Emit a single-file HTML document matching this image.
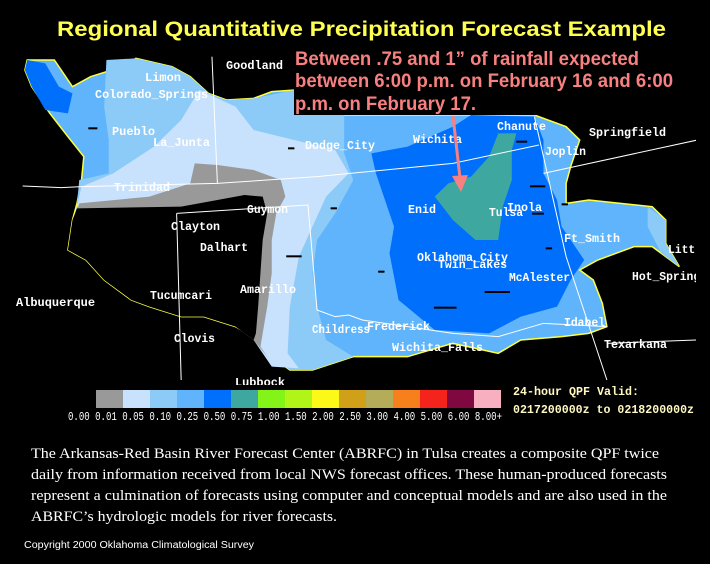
<!DOCTYPE html>
<html><head><meta charset="utf-8"><style>
html,body{margin:0;padding:0;background:#000;width:710px;height:564px;overflow:hidden}
svg{display:block}
.lb{font-family:"Liberation Mono",monospace;font-weight:bold;font-size:12px;fill:#fff}
</style></head><body>
<svg width="710" height="564" viewBox="0 0 710 564" xmlns="http://www.w3.org/2000/svg">
<rect width="710" height="564" fill="#000"/>
<text x="57" y="36" font-family="Liberation Sans, sans-serif" font-weight="bold" font-size="21" fill="#ffff50" textLength="609" lengthAdjust="spacingAndGlyphs">Regional Quantitative Precipitation Forecast Example</text>
<defs><clipPath id="mc"><rect x="0" y="42" width="696" height="343"/></clipPath></defs>
<g clip-path="url(#mc)">
<g transform="translate(0,40) scale(0.4529,0.33333)">
<polygon fill="#60b4fc" stroke="#ffff40" stroke-width="1.5" vector-effect="non-scaling-stroke" points="60,60 120,60 160,140 200,110 270,80 300,55 380,80 420,110 460,160 500,180 560,175 600,155 650,150 650,225 1180,225 1250,260 1280,300 1260,380 1250,430 1250,490 1300,480 1440,500 1470,540 1470,610 1500,680 1440,620 1400,620 1320,660 1280,690 1310,720 1330,790 1340,860 1300,880 1240,890 1150,900 1100,940 1000,910 900,950 780,950 690,990 640,990 600,950 570,900 520,860 450,830 400,830 330,800 290,780 230,720 190,660 150,630 160,540 170,490 180,420 185,350 150,290 110,220 70,140 55,90"/>
<polygon fill="#8ccaf8" points="235,60 300,55 380,80 420,110 460,160 500,180 560,175 650,150 650,225 760,225 760,340 780,420 740,520 700,600 690,700 700,800 720,900 780,950 690,990 640,990 600,950 570,900 170,490 175,420 240,400 240,300 230,200"/>
<polygon fill="#0070fc" points="55,90 60,60 100,70 130,140 160,160 150,220 100,210 70,140"/>
<polygon fill="#c8e1fc" points="440,150 520,200 560,270 740,330 770,400 720,470 690,560 660,650 640,800 635,940 660,985 600,980 560,900 170,500 180,440 250,400 340,320 400,240"/>
<polygon fill="#999" points="430,370 480,375 560,390 620,420 630,470 610,520 600,600 600,700 590,800 580,880 575,920 590,950 560,900 170,510 175,490 330,470 420,430"/>
<polygon fill="#000" points="170,505 400,500 480,480 540,465 580,470 590,520 580,600 575,700 570,800 565,880 560,900 520,860 450,830 400,830 330,800 290,780 230,720 190,660 150,630 160,540"/>
<polygon fill="#0070fc" points="820,340 900,320 1000,260 1040,225 1180,230 1200,300 1200,400 1230,480 1240,560 1270,620 1290,660 1260,720 1230,800 1150,830 1080,880 960,870 880,780 860,640 870,560 850,480 830,400"/>
<polygon fill="#3ea8a0" points="1100,280 1140,280 1130,330 1130,420 1110,500 1100,600 1050,600 1000,540 960,470 990,430 1040,410 1080,350"/>
<polygon fill="#8ccaf8" points="1430,500 1470,540 1470,610 1500,680 1460,640 1430,560"/>
<g fill="none" stroke="#fff" stroke-width="1" vector-effect="non-scaling-stroke">
<polyline vector-effect="non-scaling-stroke" points="50,438 135,443 180,440 480,430 700,410 1000,370 1190,315"/>
<polyline vector-effect="non-scaling-stroke" points="468,50 480,430"/>
<polyline vector-effect="non-scaling-stroke" points="390,520 680,495 700,810 740,830 770,825 800,840 900,860 1000,880 1100,890 1200,850 1340,860"/>
<polyline vector-effect="non-scaling-stroke" points="390,520 400,1020"/>
<polyline vector-effect="non-scaling-stroke" points="1180,230 1250,650 1340,1020"/>
<polyline vector-effect="non-scaling-stroke" points="1200,400 1540,300"/>
<polyline vector-effect="non-scaling-stroke" points="1340,910 1540,900"/>
</g>
<g fill="#000">
<rect x="195" y="262" width="20" height="6"/><rect x="636" y="322" width="14" height="6"/><rect x="730" y="502" width="14" height="6"/>
<rect x="632" y="646" width="34" height="6"/><rect x="1170" y="436" width="34" height="6"/><rect x="1140" y="302" width="24" height="6"/>
<rect x="1070" y="753" width="56" height="6"/><rect x="958" y="800" width="50" height="6"/><rect x="1175" y="518" width="26" height="6"/>
<rect x="1240" y="490" width="14" height="6"/><rect x="1205" y="622" width="14" height="6"/><rect x="835" y="692" width="14" height="6"/>
</g>
</g>
<text class="lb" x="226" y="69" textLength="57" lengthAdjust="spacingAndGlyphs">Goodland</text>
<text class="lb" x="145" y="81" textLength="36" lengthAdjust="spacingAndGlyphs">Limon</text>
<text class="lb" x="95" y="98" textLength="113" lengthAdjust="spacingAndGlyphs">Colorado_Springs</text>
<text class="lb" x="112" y="135" textLength="43" lengthAdjust="spacingAndGlyphs">Pueblo</text>
<text class="lb" x="153" y="146" textLength="57" lengthAdjust="spacingAndGlyphs">La_Junta</text>
<text class="lb" x="305" y="149" textLength="70" lengthAdjust="spacingAndGlyphs">Dodge_City</text>
<text class="lb" x="413" y="143" textLength="49" lengthAdjust="spacingAndGlyphs">Wichita</text>
<text class="lb" x="497" y="130" textLength="49" lengthAdjust="spacingAndGlyphs">Chanute</text>
<text class="lb" x="589" y="136" textLength="77" lengthAdjust="spacingAndGlyphs">Springfield</text>
<text class="lb" x="545" y="155" textLength="41" lengthAdjust="spacingAndGlyphs">Joplin</text>
<text class="lb" x="114" y="191" textLength="56" lengthAdjust="spacingAndGlyphs">Trinidad</text>
<text class="lb" x="247" y="213" textLength="41" lengthAdjust="spacingAndGlyphs">Guymon</text>
<text class="lb" x="408" y="213" textLength="28" lengthAdjust="spacingAndGlyphs">Enid</text>
<text class="lb" x="489" y="216" textLength="34" lengthAdjust="spacingAndGlyphs">Tulsa</text>
<text class="lb" x="507" y="211" textLength="35" lengthAdjust="spacingAndGlyphs">Inola</text>
<text class="lb" x="171" y="230" textLength="49" lengthAdjust="spacingAndGlyphs">Clayton</text>
<text class="lb" x="200" y="251" textLength="48" lengthAdjust="spacingAndGlyphs">Dalhart</text>
<text class="lb" x="417" y="261" textLength="91" lengthAdjust="spacingAndGlyphs">Oklahoma_City</text>
<text class="lb" x="438" y="268" textLength="69" lengthAdjust="spacingAndGlyphs">Twin_Lakes</text>
<text class="lb" x="564" y="242" textLength="56" lengthAdjust="spacingAndGlyphs">Ft_Smith</text>
<text class="lb" x="668" y="253" textLength="34" lengthAdjust="spacingAndGlyphs">Litt.</text>
<text class="lb" x="509" y="281" textLength="61" lengthAdjust="spacingAndGlyphs">McAlester</text>
<text class="lb" x="632" y="280" textLength="75" lengthAdjust="spacingAndGlyphs">Hot_Springs</text>
<text class="lb" x="16" y="306" textLength="79" lengthAdjust="spacingAndGlyphs">Albuquerque</text>
<text class="lb" x="150" y="299" textLength="62" lengthAdjust="spacingAndGlyphs">Tucumcari</text>
<text class="lb" x="240" y="293" textLength="56" lengthAdjust="spacingAndGlyphs">Amarillo</text>
<text class="lb" x="174" y="342" textLength="41" lengthAdjust="spacingAndGlyphs">Clovis</text>
<text class="lb" x="312" y="333" textLength="58" lengthAdjust="spacingAndGlyphs">Childress</text>
<text class="lb" x="367" y="330" textLength="63" lengthAdjust="spacingAndGlyphs">Frederick</text>
<text class="lb" x="392" y="351" textLength="91" lengthAdjust="spacingAndGlyphs">Wichita_Falls</text>
<text class="lb" x="564" y="326" textLength="41" lengthAdjust="spacingAndGlyphs">Idabel</text>
<text class="lb" x="604" y="348" textLength="63" lengthAdjust="spacingAndGlyphs">Texarkana</text>
<text class="lb" x="235" y="386" textLength="50" lengthAdjust="spacingAndGlyphs">Lubbock</text>
</g>
<rect x="294" y="48" width="384" height="67" fill="#000"/>
<g font-family="Liberation Sans Narrow, Liberation Sans, sans-serif" font-weight="bold" font-size="19" fill="#f88080">
<text x="295" y="65" textLength="344" lengthAdjust="spacingAndGlyphs">Between .75 and 1” of rainfall expected</text>
<text x="295" y="87" textLength="378" lengthAdjust="spacingAndGlyphs">between 6:00 p.m. on February 16 and 6:00</text>
<text x="295" y="110" textLength="181" lengthAdjust="spacingAndGlyphs">p.m. on February 17.</text>
</g>
<line x1="453" y1="116" x2="460" y2="178" stroke="#f88080" stroke-width="3"/>
<polygon points="452,176 468,175 461,192" fill="#f88080"/>
<g>
<rect x="96" y="390" width="27" height="18" fill="#999"/>
<rect x="123" y="390" width="27" height="18" fill="#c8e1fc"/>
<rect x="150" y="390" width="27" height="18" fill="#8ccaf8"/>
<rect x="177" y="390" width="27" height="18" fill="#60b4fc"/>
<rect x="204" y="390" width="27" height="18" fill="#0070fc"/>
<rect x="231" y="390" width="27" height="18" fill="#3ea8a0"/>
<rect x="258" y="390" width="27" height="18" fill="#84f418"/>
<rect x="285" y="390" width="27" height="18" fill="#b0f418"/>
<rect x="312" y="390" width="27" height="18" fill="#fcf818"/>
<rect x="339" y="390" width="27" height="18" fill="#d0a018"/>
<rect x="366" y="390" width="27" height="18" fill="#b4ac58"/>
<rect x="393" y="390" width="27" height="18" fill="#f8801c"/>
<rect x="420" y="390" width="27" height="18" fill="#f4241c"/>
<rect x="447" y="390" width="27" height="18" fill="#800840"/>
<rect x="474" y="390" width="27" height="18" fill="#f8b0c0"/>
</g>
<text x="68" y="420" font-family="Liberation Mono, monospace" font-size="12" fill="#fff" textLength="434" lengthAdjust="spacingAndGlyphs">0.00 0.01 0.05 0.10 0.25 0.50 0.75 1.00 1.50 2.00 2.50 3.00 4.00 5.00 6.00 8.00+</text>
<text x="513" y="395" font-family="Liberation Mono, monospace" font-weight="bold" font-size="12" fill="#fff8c0" textLength="126" lengthAdjust="spacingAndGlyphs">24-hour QPF Valid:</text>
<text x="513" y="413" font-family="Liberation Mono, monospace" font-weight="bold" font-size="12" fill="#fff8c0" textLength="181" lengthAdjust="spacingAndGlyphs">0217200000z to 0218200000z</text>
<g font-family="Liberation Serif, serif" font-size="15" fill="#fff">
<text x="31" y="458" textLength="628" lengthAdjust="spacingAndGlyphs">The Arkansas-Red Basin River Forecast Center (ABRFC) in Tulsa creates a composite QPF twice</text>
<text x="31" y="479" textLength="636" lengthAdjust="spacingAndGlyphs">daily from information received from local NWS forecast offices. These human-produced forecasts</text>
<text x="31" y="500" textLength="636" lengthAdjust="spacingAndGlyphs">represent a culmination of forecasts using computer and conceptual models and are also used in the</text>
<text x="31" y="521" textLength="306" lengthAdjust="spacingAndGlyphs">ABRFC’s hydrologic models for river forecasts.</text>
</g>
<text x="24" y="548" font-family="Liberation Sans, sans-serif" font-size="10" fill="#fff" textLength="230" lengthAdjust="spacingAndGlyphs">Copyright 2000 Oklahoma Climatological Survey</text>
</svg>
</body></html>
